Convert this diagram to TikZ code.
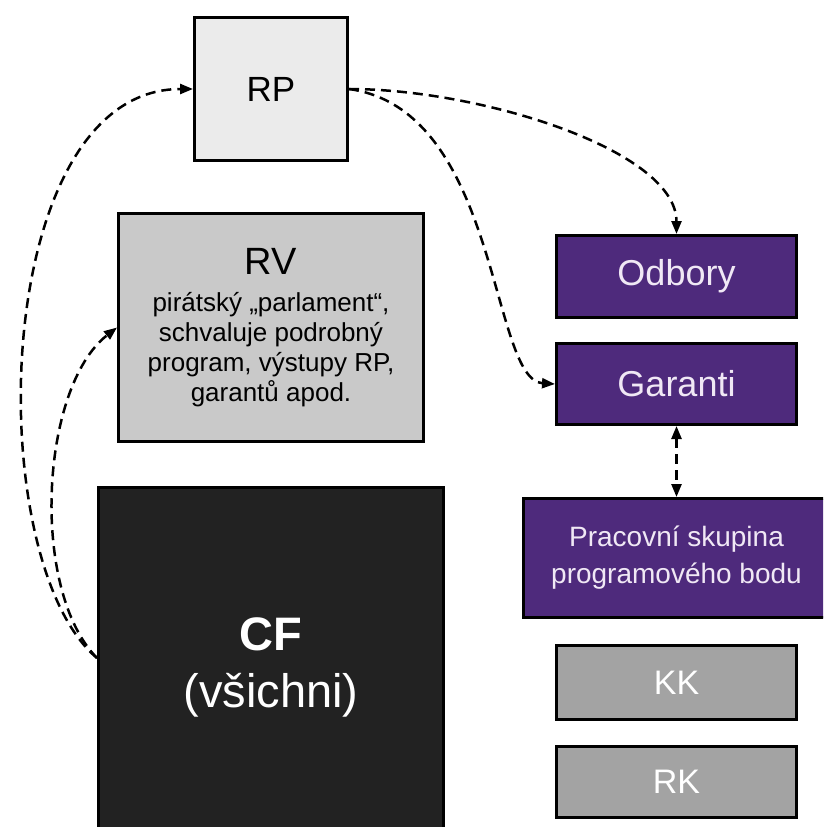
\documentclass[tikz,border=0pt]{standalone}
\usepackage{fontspec}
\setsansfont{Liberation Sans}
\RequirePackage{xcolor}
\definecolor{rplight}{RGB}{235,235,235}
\definecolor{rvgray}{RGB}{201,201,201}
\definecolor{cfdark}{RGB}{34,34,34}
\definecolor{pirpurple}{RGB}{78,42,124}
\definecolor{pirtext}{RGB}{240,232,245}
\definecolor{komgray}{RGB}{163,163,163}
\tikzset{every picture/.style={/utils/exec={\sffamily}}}
\usetikzlibrary{positioning}
\usetikzlibrary{arrows.meta}

\tikzset{
  box/.style={draw=black, line width=3pt, inner sep=0pt, align=center},
  purplebox/.style={box, fill=pirpurple, text=pirtext, minimum width=240pt},
  graybox/.style={box, fill=komgray, text=white, minimum width=240pt, font=\fontsize{34}{40}\selectfont},
  flow/.style={line width=2.5pt, dash pattern=on 10pt off 6pt, -{Triangle[length=13pt,width=10pt]}}
}

\begin{document}
\begin{tikzpicture}[x=1pt, y=1pt]
  \clip (0,0) rectangle (823,-827);

  \node [box, fill=rplight, minimum width=153pt, minimum height=143pt, font=\fontsize{35}{42}\selectfont] (rp) at (271,-89) {RP};
  \node [box, fill=rvgray, minimum width=305pt, minimum height=228pt, font=\fontsize{26}{30}\selectfont] (rv) at (271,-327.5) {{\fontsize{38}{44}\selectfont RV}\\[7pt]pirátský „parlament“,\\schvaluje podrobný\\program, výstupy RP,\\garantů apod.};
  \node [box, fill=cfdark, text=white, minimum width=345pt, minimum height=360pt, font=\fontsize{47}{57}\selectfont] (cf) at (271,-667) {\textbf{CF}\\(všichni)};

  \node [purplebox, minimum height=82pt, font=\fontsize{36}{42}\selectfont] (odbory) at (676.5,-276.5) {Odbory};
  \node [purplebox, minimum height=81pt, font=\fontsize{36}{42}\selectfont, below=23pt of odbory] (garanti) {Garanti};
  \node [purplebox, minimum width=306pt, minimum height=119pt, font=\fontsize{28}{37}\selectfont, below=71pt of garanti] (skupina) {Pracovní skupina\\programového bodu};
  \node [graybox, minimum height=74pt, below=25pt of skupina] (kk) {KK};
  \node [graybox, minimum height=71pt, below=24pt of kk] (rk) {RK};

  % CF to RP and RV:
  \draw [flow] ([yshift=9pt]cf.west) .. controls +(-117,98) and +(-203,0) .. (rp.west);
  \draw [flow] ([yshift=9pt]cf.west) .. controls +(-67,68) and +(-77,-60) .. (rv.west);

  % RP to Odbory and Garanti:
  \draw [flow] (rp.east) .. controls +(131,0) and +(0,84) .. (odbory.north);
  \draw [flow] (rp.east) .. controls +(151,-21) and +(-65,4) .. (garanti.west);

  % Garanti and skupina:
  \draw [flow, {Triangle[length=13pt,width=10pt]}-{Triangle[length=13pt,width=10pt]}] (garanti) -- (skupina);
\end{tikzpicture}
\end{document}
